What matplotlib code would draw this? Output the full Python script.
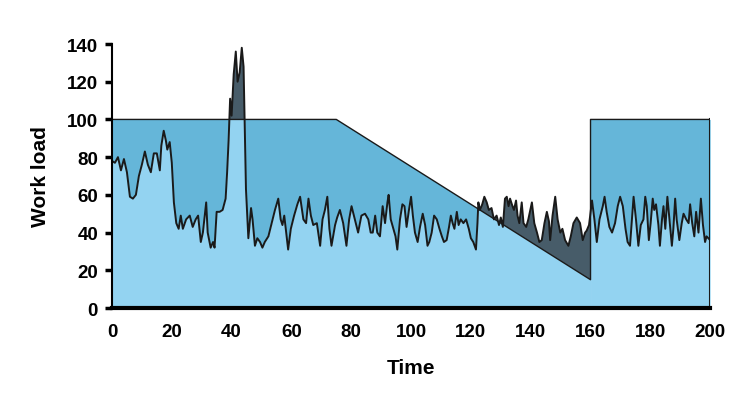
import numpy as np
import matplotlib
matplotlib.use("Agg")
import matplotlib.pyplot as plt

plt.rcParams["font.family"] = ["Liberation Sans", "DejaVu Sans"]
plt.rcParams["font.weight"] = "bold"

# capacity (the upper envelope) - jumps back to 100 at t=160
cap_t = [0, 75, 160, 160, 200]
cap_v = [100, 100, 15, 100, 100]

work_t = [0, 1, 2, 3, 4, 5, 6, 7, 8, 9, 10, 11, 12, 13, 14, 15, 16, 16.5, 17.3, 18,
          18.5, 19.3, 20, 20.7, 21.5, 22.3, 23, 23.7, 24.8, 26, 27, 28, 28.8, 29.7, 30.4,
          31.5, 32, 33, 33.8, 34.3, 35, 36, 37, 38, 38.5, 39, 39.5, 40, 40.7, 41.4,
          42, 42.7, 43.4, 44, 44.4, 44.8, 45.3, 45.6, 46.5, 47, 47.8, 48.6, 49.5, 50.3,
          51.1, 52.3, 53.4, 54.5, 55.6, 56.4, 57, 57.6, 58.4, 58.9, 59.8, 60.9, 62, 62.9,
          64, 64.9, 65.7, 66.5, 67.3, 68.5, 69.6, 70.4, 71.2, 72, 72.7, 73.4, 74.6, 75.3,
          76.2, 77.3, 78.4, 79.3, 80.1, 81.2, 82.3, 83.4, 84.6, 85.7, 86.5, 87.2, 88, 88.7,
          89.6, 90.5, 91.3, 92.1, 92.5, 93.2, 94.1, 94.8, 95.4, 96.3, 97.1, 97.8, 98.5,
          99.3, 100, 100.6, 101.3, 102.2, 103, 103.9, 104.7, 105.5, 106.1, 106.9, 107.7,
          108.6, 109.5, 110.3, 111, 111.9, 112.7, 113.3, 113.9, 114.5, 115.3, 115.9, 116.6,
          117.5, 118.4, 119.3, 120, 120.8, 121.7, 122.2, 122.5, 123, 123.8, 124.5, 125.3,
          126, 126.9, 127.7, 128.6, 129.4, 130, 130.7, 131.4, 132, 132.6, 133.1, 133.7,
          134.4, 135.1, 135.6, 136.2, 137, 137.6, 138.5, 139.2, 140.4, 141.2, 142.1, 142.9,
          143.7, 144.6, 145.4, 146.1, 146.5, 147.3, 148.2, 149, 149.9, 150.6, 151.5, 152.6,
          153.4, 154.3, 155.4, 156.5, 157.4, 158.2, 158.7, 159.5, 160.5, 161.3, 162.1, 163,
          164.1, 164.7, 165.4, 166.3, 167.2, 168.2, 169.1, 169.9, 170.8, 171.7, 172.4, 173.2,
          174.4, 175.2, 176, 176.8, 177.7, 178.3, 178.8, 179.5, 180.1, 180.8, 181.3, 181.9,
          182.7, 183.2, 183.9, 184.4, 185, 185.7, 186.4, 187.2, 187.7, 188.3, 188.8, 189.7,
          190.5, 191.1, 192, 192.8, 193.3, 194, 194.7, 195.3, 196.1, 196.9, 197.6, 198.3,
          198.8, 199.4, 200]
work_v = [78, 77, 80, 73, 79, 72, 59, 58, 60, 70, 76, 83, 76, 72, 82, 82, 73, 86, 94, 89,
          84, 88, 77, 56, 45, 42, 49, 42, 47, 49, 43, 47, 49, 35, 40,
          56, 40, 32, 35, 32, 51, 51, 52, 58, 72, 89, 111, 102, 124, 136,
          120, 125, 138, 128, 95, 63, 47, 37, 53, 47, 33, 37, 35, 32,
          35, 38, 45, 52, 58, 47, 44, 49, 38, 31, 42, 49, 55, 59,
          47, 45, 58, 49, 44, 45, 33, 47, 52, 59, 42, 33, 44, 48,
          52, 45, 33, 47, 54, 47, 40, 49, 50, 47, 40, 40, 49, 40,
          38, 54, 45, 56, 60, 47, 42, 38, 31, 47, 55, 54, 43,
          52, 59, 49, 40, 35, 43, 50, 44, 33, 35, 40, 49,
          47, 42, 38, 35, 36, 43, 49, 45, 42, 51, 44, 47,
          45, 47, 42, 37, 35, 31, 45, 56, 52, 55, 59, 56,
          52, 53, 47, 49, 44, 48, 43, 58, 59, 54, 58, 55,
          52, 57, 49, 45, 56, 45, 43, 47, 56, 45, 40, 35,
          36, 45, 51, 46, 36, 49, 59, 47, 40, 42, 36, 33,
          38, 45, 48, 45, 36, 40, 41, 44, 57, 47, 35, 47,
          54, 59, 51, 43, 40, 45, 54, 59, 54, 42, 35, 33,
          59, 47, 33, 44, 47, 59, 54, 36, 45, 58, 52, 55,
          44, 33, 47, 54, 42, 59, 47, 33, 42, 58, 47, 36,
          45, 50, 47, 45, 55, 45, 38, 51, 40, 58, 44, 35,
          38, 37, 36]

c_light = "#93d3f1"
c_mid = "#65b6d9"
c_dark = "#475c69"
c_line = "#1a1a1a"

fig = plt.figure(figsize=(7.53, 4.14), dpi=100)
ax = fig.add_axes([0.1487, 0.2536, 0.7944, 0.6377])

# two pieces, split at the capacity jump
for seg_t, seg_v in [(cap_t[:3], cap_v[:3]), (cap_t[3:], cap_v[3:])]:
    tt = np.linspace(seg_t[0], seg_t[-1], 3000)
    cap = np.interp(tt, seg_t, seg_v)
    wl = np.interp(tt, work_t, work_v)
    low = np.minimum(cap, wl)
    ax.fill_between(tt, 0, low, color=c_light, lw=0)
    ax.fill_between(tt, wl, cap, where=cap >= wl, interpolate=True, color=c_mid, lw=0)
    ax.fill_between(tt, cap, wl, where=wl >= cap, interpolate=True, color=c_dark, lw=0)

ax.plot(cap_t, cap_v, color=c_line, lw=1.0)
ax.plot([200, 200], [0, 100], color=c_line, lw=1.5)
ax.plot(work_t, work_v, color=c_line, lw=1.4)

ax.set_xlim(0, 200)
ax.set_ylim(0, 140)
ax.set_xticks(range(0, 201, 20))
ax.set_yticks(range(0, 141, 20))

for s in ["top", "right"]:
    ax.spines[s].set_visible(False)
ax.spines["left"].set_linewidth(1.5)
ax.spines["bottom"].set_linewidth(3)

ax.tick_params(axis="y", length=5, width=2.5, pad=5, labelsize=13.5)
ax.tick_params(axis="x", length=0, pad=11, labelsize=13.5)

ax.set_xlabel("Time", fontsize=15, fontweight="bold", labelpad=13)
ax.set_ylabel("Work load", fontsize=15, fontweight="bold", labelpad=12)

fig.savefig("out.png", dpi=100)
